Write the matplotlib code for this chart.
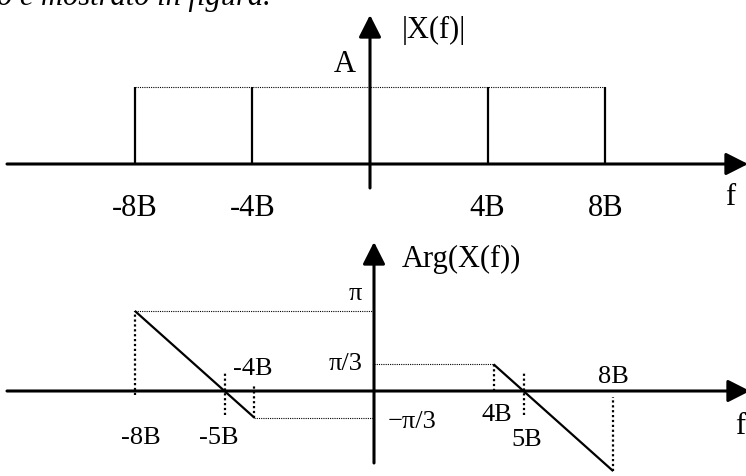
import numpy as np
import matplotlib
matplotlib.use('Agg')
import matplotlib.pyplot as plt

plt.rcParams['font.family'] = ['Liberation Serif', 'DejaVu Serif']

# spectrum: |X(f)| lines and Arg(X(f)) linear phase segments (f in units of B)
mag_f = [-8, -4, 4, 8]
mag_labels = ['-8B', '-4B', '4B', '8B']
A = 1.0

phase_f = [[-8, -4], [4, 8]]
phase_val = [[np.pi, -np.pi / 3], [np.pi / 3, -np.pi]]
zero_f = [-5, 5]

W, H = 746, 476
fig = plt.figure(figsize=(W / 100, H / 100), dpi=100)


def make_axes(top, bottom, x0, sx, y0, sy):
    # axes spanning pixel rows top..bottom, origin at pixel (x0, y0)
    ax = fig.add_axes([0, 1 - bottom / H, 1, (bottom - top) / H])
    ax.set_xlim(-x0 / sx, (W - x0) / sx)
    ax.set_ylim((y0 - bottom) / sy, (y0 - top) / sy)
    ax.axis('off')
    return ax


def arrow_axes(ax, xl, xr, yb, yt):
    head = dict(arrowstyle='-|>,head_length=0.75,head_width=0.38',
                color='k', lw=2.2, mutation_scale=18, shrinkA=0, shrinkB=0)
    ax.annotate('', xy=(xr, 0), xytext=(xl, 0), arrowprops=head,
                annotation_clip=False)
    ax.annotate('', xy=(0, yt), xytext=(0, yb), arrowprops=head,
                annotation_clip=False)


# tail of the sentence above the figure
fig.text(-0.004, 1 - 5 / H, 'o è mostrato in figura.', fontsize=22,
         style='italic', va='baseline', ha='left')

# ---- magnitude
sx1, sy1 = 29.4, 77.0
ax1 = make_axes(0, 236, 370, sx1, 164, sy1)
arrow_axes(ax1, -363 / sx1, 378 / sx1, -24 / sy1, 149 / sy1)
ax1.vlines(mag_f, 0, A, color='k', lw=1.6)
ax1.hlines(A, mag_f[0], mag_f[-1], color='k', lw=0.8, linestyles=(0, (1, 1)))
for f, lab in zip(mag_f, mag_labels):
    ax1.text(f, -0.58, lab, fontsize=22, ha='center', va='center')
ax1.text(-0.85, A + 0.29, 'A', fontsize=22, ha='center', va='center')
ax1.text(1.09, 1.74, '|X(f)|', fontsize=22, ha='left', va='center')
ax1.text(12.24, -0.44, 'f', fontsize=22, ha='center', va='center')

# ---- phase
sx2, sy2 = 29.9, 25.5
ax2 = make_axes(236, 476, 374, sx2, 391, sy2)
arrow_axes(ax2, -367 / sx2, 376 / sx2, -72 / sy2, 149 / sy2)
for fs, ps in zip(phase_f, phase_val):
    ax2.plot(fs, ps, color='k', lw=1.6, solid_capstyle='butt')

thin = dict(color='k', lw=0.8, linestyles=(0, (1, 1)))
thick = dict(color='k', lw=1.6, linestyles=(0, (1, 1.2)))
# horizontal guides to the phase axis
ax2.hlines(phase_val[0][0], phase_f[0][0], 0, **thin)
ax2.hlines(phase_val[0][1], phase_f[0][1], 0, **thin)
ax2.hlines(phase_val[1][0], 0, phase_f[1][0], **thin)
# vertical guides at the segment ends and zero crossings
ax2.vlines(phase_f[0][0], -0.15, phase_val[0][0], **thick)
ax2.vlines(phase_f[0][1], phase_val[0][1], 0.25, **thick)
ax2.vlines(phase_f[1][0], 0, phase_val[1][0], **thick)
ax2.vlines(phase_f[1][1], phase_val[1][1], -0.25, **thick)
ax2.vlines(zero_f, -0.95, 0.7, **thick)

lab = dict(fontsize=19, ha='center', va='center')
ax2.text(phase_f[0][0] + 0.2, -1.84, '-8B', **lab)
ax2.text(zero_f[0] - 0.2, -1.84, '-5B', **lab)
ax2.text(phase_f[0][1] - 0.05, 0.86, '-4B', **lab)
ax2.text(phase_f[1][0] + 0.1, -0.94, '4B', **lab)
ax2.text(zero_f[1] + 0.1, -1.92, '5B', **lab)
ax2.text(phase_f[1][1], 0.55, '8B', **lab)
ax2.text(-0.64, phase_val[0][0] + 0.65, 'π', fontsize=19, ha='center', va='center')
ax2.text(-0.37, phase_val[1][0], 'π/3', fontsize=19, ha='right', va='center')
ax2.text(0.47, phase_val[0][1] - 0.15, '−π/3', fontsize=19, ha='left', va='center')
ax2.text(0.94, 5.14, 'Arg(X(f))', fontsize=22, ha='left', va='center')
ax2.text(12.24, -1.41, 'f', fontsize=22, ha='center', va='center')

fig.savefig('out.png', dpi=100)
